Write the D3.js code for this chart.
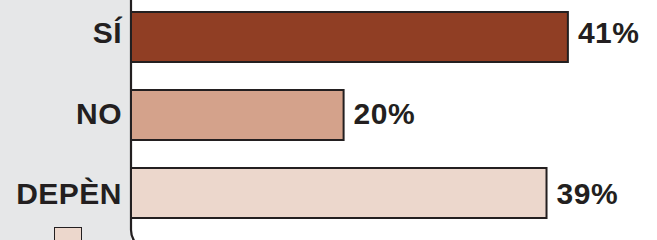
<!DOCTYPE html>
<html>
<head>
<meta charset="utf-8">
<script src="https://cdn.jsdelivr.net/npm/d3@7"></script>
<style>
    html, body { margin: 0; padding: 0; background: #fff; }
    svg { display: block; font-family: "Liberation Sans", Arial, Helvetica, sans-serif; }
</style>
</head>
<body>
<svg id="chart" width="657" height="240"></svg>
<script>
// dades
var categories = ["SÍ", "NO", "DEPÈN"];
var values = [41, 20, 39];
var colors = ["#903e24", "#d4a28b", "#ecd7cc"];
var valueLabels = ["41%", "20%", "39%"];

var W = 657, H = 240;
var ink = "#231f20";

var svg = d3.select("#chart");

var x = d3.scaleLinear()
    .domain([0, 50])
    .range([131, 665]);

var y = d3.scaleBand()
    .domain(categories)
    .range([-2, 232])
    .paddingInner(1 / 3)
    .paddingOuter(1 / 6);

// el text no queda just al centre de la barra
var ty = d3.scalePoint()
    .domain(categories)
    .range([43, 204]);

// fons gris de l'esquerra
svg.append("rect")
    .attr("x", 0).attr("y", 0)
    .attr("width", 131).attr("height", H)
    .attr("fill", "#e6e7e8");

// panell blanc amb cantonada arrodonida
svg.append("rect")
    .attr("x", x(0)).attr("y", -30)
    .attr("width", 700).attr("height", 280)
    .attr("rx", 20).attr("ry", 20)
    .attr("fill", "#fff")
    .attr("stroke", ink)
    .attr("stroke-width", 2.2);

var data = categories.map(function(c, i) {
    return {cat: c, value: values[i], color: colors[i], label: valueLabels[i]};
});

svg.selectAll(".bar")
    .data(data)
    .enter().append("rect")
    .attr("class", "bar")
    .attr("x", x(0))
    .attr("y", function(d) { return y(d.cat) + 1; })
    .attr("width", function(d) { return x(d.value) - x(0) - 1; })
    .attr("height", y.bandwidth() - 2)
    .attr("fill", function(d) { return d.color; })
    .attr("stroke", ink)
    .attr("stroke-width", 2);

// etiquetes de categoria
svg.selectAll(".cat")
    .data(data)
    .enter().append("text")
    .attr("class", "cat")
    .attr("x", 122)
    .attr("y", function(d) { return ty(d.cat); })
    .attr("text-anchor", "end")
    .attr("font-size", 30)
    .attr("font-weight", "bold")
    .attr("letter-spacing", 0.5)
    .attr("fill", ink)
    .text(function(d) { return d.cat; });

// percentatges
svg.selectAll(".val")
    .data(data)
    .enter().append("text")
    .attr("class", "val")
    .attr("x", function(d) { return x(d.value) + 9; })
    .attr("y", function(d) { return ty(d.cat); })
    .attr("font-size", 30)
    .attr("font-weight", "bold")
    .attr("letter-spacing", 0.5)
    .attr("fill", ink)
    .text(function(d) { return d.label; });

// quadret de llegenda tallat a baix
svg.append("rect")
    .attr("x", 54.5).attr("y", 227.5)
    .attr("width", 27).attr("height", 20)
    .attr("fill", colors[2])
    .attr("stroke", ink)
    .attr("stroke-width", 1);
</script>
</body>
</html>
